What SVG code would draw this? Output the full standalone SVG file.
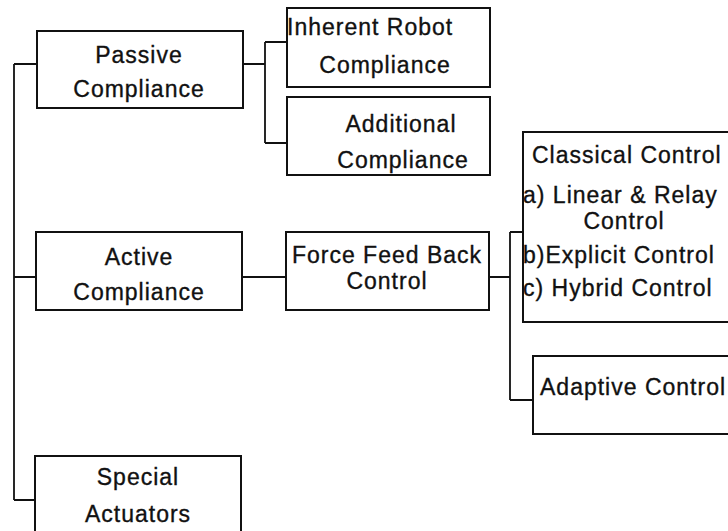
<svg xmlns="http://www.w3.org/2000/svg" width="728" height="531" viewBox="0 0 728 531">
<style>
.box{fill:#fff;stroke:#111;stroke-width:2}
.ln{fill:none;stroke:#111;stroke-width:1.8}
text{font-family:"Liberation Sans",Arial,sans-serif;font-size:23px;fill:#111;stroke:#111;stroke-width:0.35;letter-spacing:1px}
.c{text-anchor:middle}
</style>
<rect width="728" height="531" fill="#fff"/>
<g id="connectors">
<path class="ln" d="M14,64 V500 M14,64 H37 M14,277 H36 M14,500 H35"/>
<path class="ln" d="M243,64 H265 M265,42 V143 M265,42 H287 M265,143 H287"/>
<path class="ln" d="M242,277 H286"/>
<path class="ln" d="M489,277 H510 M510,232 V400 M510,232 H533 M510,400 H533"/>
</g>
<g id="passive">
<rect class="box" x="37" y="31" width="206" height="77"/>
<text class="c" x="139" y="63">Passive</text>
<text class="c" x="139" y="97">Compliance</text>
</g>
<g id="inherent">
<rect class="box" x="287" y="8" width="203" height="79"/>
<text x="287" y="35">Inherent Robot</text>
<text class="c" x="385" y="73">Compliance</text>
</g>
<g id="additional">
<rect class="box" x="287" y="97" width="203" height="78"/>
<text class="c" x="401" y="132">Additional</text>
<text class="c" x="403" y="168">Compliance</text>
</g>
<g id="active">
<rect class="box" x="36" y="232" width="206" height="78"/>
<text class="c" x="139" y="265">Active</text>
<text class="c" x="139" y="300">Compliance</text>
</g>
<g id="force">
<rect class="box" x="286" y="232" width="203" height="78"/>
<text class="c" x="387" y="263">Force Feed Back</text>
<text class="c" x="387" y="289">Control</text>
</g>
<g id="classical">
<rect class="box" x="523" y="132" width="220" height="190"/>
<text x="532" y="163">Classical Control</text>
<text x="523" y="203">a) Linear &amp; Relay</text>
<text class="c" x="624" y="229">Control</text>
<text x="523" y="263">b)Explicit Control</text>
<text x="523" y="296">c) Hybrid Control</text>
</g>
<g id="adaptive">
<rect class="box" x="533" y="356" width="220" height="78"/>
<text x="540" y="395">Adaptive Control</text>
</g>
<g id="special">
<rect class="box" x="35" y="456" width="206" height="90"/>
<text class="c" x="138" y="485">Special</text>
<text class="c" x="138" y="522">Actuators</text>
</g>
</svg>
